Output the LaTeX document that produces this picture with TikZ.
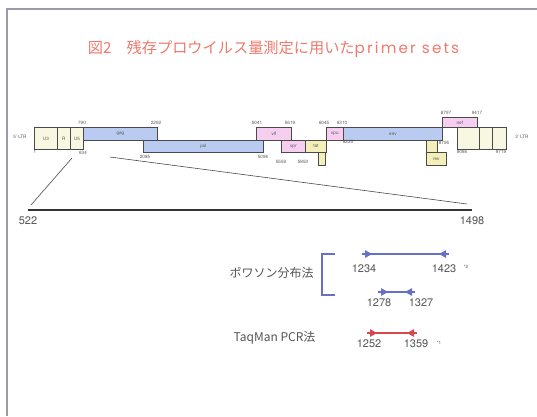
\documentclass[tikz,border=0pt]{standalone}
\usepackage{fontspec}
\setmainfont{TeX Gyre Heros}
\newfontfamily\jp{Noto Sans CJK JP}
\newfontfamily\lat[LetterSpace=14]{Poppins}
\usetikzlibrary{arrows.meta,decorations.markings}
\definecolor{framec}{HTML}{9C9AAA}
\definecolor{titlec}{HTML}{EE7A6E}
\definecolor{ylw}{HTML}{F8F8E2}
\definecolor{ylw2}{HTML}{F4EFB8}
\definecolor{blu}{HTML}{B9CBF0}
\definecolor{pnk}{HTML}{F6CFF0}
\definecolor{edge}{HTML}{4A4A4A}
\definecolor{txt}{HTML}{555555}
\definecolor{primb}{HTML}{6670C8}
\definecolor{primr}{HTML}{D8474E}
\tikzset{
  gbox/.style={draw=edge, line width=0.75pt, inner sep=0pt, anchor=north west,
    font=\fontsize{4.6}{5}\selectfont, text=txt},
  num/.style={font=\fontsize{4.6}{5}\selectfont, text=txt, inner sep=0.5pt},
  big/.style={font=\fontsize{11}{12}\selectfont, text=txt, inner sep=0pt},
  lab/.style={font=\jp\fontsize{12}{13}\selectfont, text=txt, inner sep=0pt},
  primer/.style={line width=1.1pt,
    decoration={markings,
      mark=at position 10pt with {\arrow{Triangle[length=7pt,width=7.5pt]}},
      mark=at position -10pt with {\arrowreversed{Triangle[length=7pt,width=7.5pt]}}},
    postaction={decorate}},
}
\newcommand\gb[7]{\node[gbox, fill=#6, minimum width=#4pt-#2pt, minimum height=#5pt-#3pt] (#1) at (#2,#3) {#7};}
\begin{document}
\begin{tikzpicture}[x=1pt,y=-1pt]
\useasboundingbox (0,0) rectangle (537,416);
\fill[white] (0,0) rectangle (537,416);
% frame
\coordinate (f1) at (7,416);
\coordinate (f2) at (7,9);
\coordinate (f3) at (537,9);
\draw[framec, line width=1.4pt] (f1) -- (f2) -- (f3);
% title
\node[text=titlec, inner sep=0pt] (title) at (273.5,49) {{\jp\fontsize{15.2}{16}\selectfont 図2　残存プロウイルス量測定に用いた}{\lat\fontsize{15.2}{16}\selectfont primer sets}};
% genome boxes
\gb{pol}{143}{140}{263}{152}{blu}{pol}
\gb{gag}{83}{127}{157}{140}{blu}{gag}
\gb{u3}{34}{127}{57}{149}{ylw}{U3}
\gb{r}{57}{127}{70}{149}{ylw}{R}
\gb{u5}{70}{127}{83}{149}{ylw}{U5}
\gb{vif}{256}{127}{291}{140}{pnk}{vif}
\gb{vpr}{281}{140}{305}{152}{pnk}{vpr}
\gb{tatb}{318}{152}{325}{165}{ylw2}{}
\gb{tat}{305}{140}{326}{152}{ylw2}{tat}
\gb{vpu}{326}{127}{343}{140}{pnk}{vpu}
\gb{env}{343}{127}{442}{140}{blu}{env}
\gb{nef}{442}{117}{477}{127}{pnk}{nef}
\gb{ltra}{457}{127}{479}{149}{ylw}{}
\gb{ltrb}{479}{127}{492}{149}{ylw}{}
\gb{ltrc}{492}{127}{506}{149}{ylw}{}
\gb{reva}{426}{140}{437}{152}{ylw2}{}
\gb{rev}{426}{152}{446}{165}{ylw2}{rev}
% LTR names
\node[num] (l5) at (20,137) {5' LTR};
\node[num] (l3) at (522,137) {3' LTR};
% position numbers
\node[num] at (82,123) {790};
\node[num] at (156,123) {2292};
\node[num] at (257,123) {5041};
\node[num] at (290,123) {5619};
\node[num] at (324,123) {6045};
\node[num] at (342,123) {6310};
\node[num] at (446,113) {8797};
\node[num] at (477,113) {9417};
\node[num] at (35,152) {1};
\node[num] at (83,153) {634};
\node[num] at (145,157) {2085};
\node[num] at (263,157) {5096};
\node[num] at (281,162) {5559};
\node[num] at (303,162) {5850};
\node[num] at (348,142) {6225};
\node[num] at (444,143) {8795};
\node[num] at (462,152) {9086};
\node[num] at (501,152) {9719};
% zoom lines
\coordinate (z1) at (72,158);
\coordinate (z2) at (31,205);
\coordinate (z3) at (110,157);
\coordinate (z4) at (467,204);
\draw[edge, line width=0.6pt] (z1) -- (z2);
\draw[edge, line width=0.6pt] (z3) -- (z4);
% scale bar
\coordinate (b1) at (28,210);
\coordinate (b2) at (472,210);
\draw[black!80, line width=2.6pt] (b1) -- (b2);
\node[big] (n522) at (28,221) {522};
\node[big] (n1498) at (472,221) {1498};
% methods
\node[lab] (poisson) at (271.5,273) {ポワソン分布法};
\node[lab] (taqman) at (274.5,338) {TaqMan PCR法};
\coordinate (k1) at (335,254);
\coordinate (k2) at (322,254);
\coordinate (k3) at (322,295);
\coordinate (k4) at (335,295);
\draw[primb, line width=1.1pt] (k1) -- (k2) -- (k3) -- (k4);
% primers
\coordinate (p1a) at (362,254);
\coordinate (p1b) at (449,254);
\draw[primer, primb] (p1a) -- (p1b);
\node[big] at (364,269) {1234};
\node[big] at (444,269) {1423};
\node[num] at (466,267) {*2};
\coordinate (p2a) at (378,292);
\coordinate (p2b) at (415,292);
\draw[primer, primb] (p2a) -- (p2b);
\node[big] at (379,303) {1278};
\node[big] at (421,303) {1327};
\coordinate (p3a) at (367,333);
\coordinate (p3b) at (417,333);
\draw[primer, primr] (p3a) -- (p3b);
\node[big] at (369,344) {1252};
\node[big] at (416,344) {1359};
\node[num] at (439,343) {*1};
\end{tikzpicture}
\end{document}
